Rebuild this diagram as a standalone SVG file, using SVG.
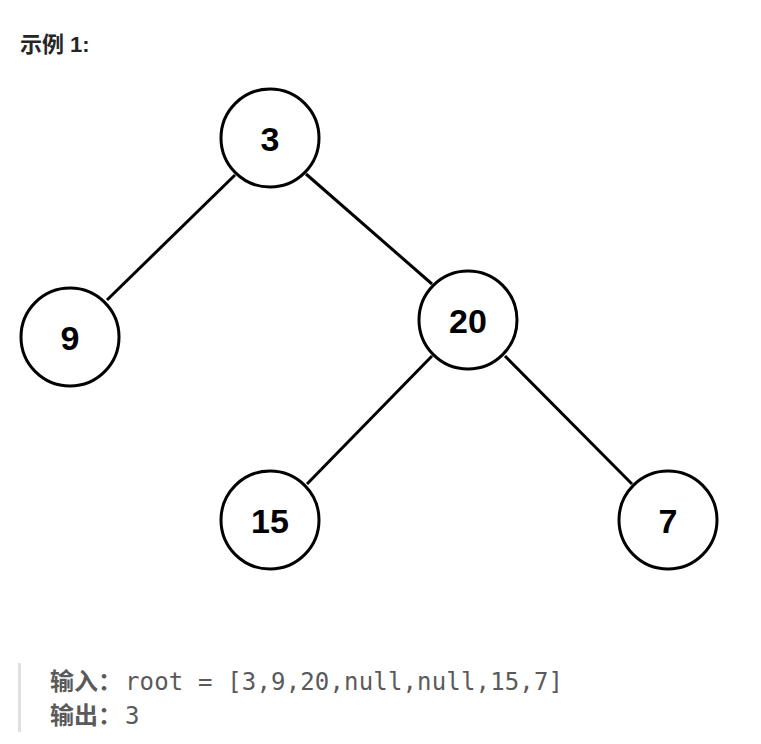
<svg xmlns="http://www.w3.org/2000/svg" width="761" height="744" viewBox="0 0 761 744">
<style>
circle{fill:#fff;stroke:#000;stroke-width:3}
.n{font-family:"Liberation Sans",Arial,sans-serif;font-weight:bold;font-size:34px;text-anchor:middle;fill:#000}
#edges line{stroke:#000;stroke-width:3}
.c{font-family:"DejaVu Sans Mono",monospace;font-size:24px;fill:#5a5a5a}
.k{font-family:"Noto Sans CJK SC",sans-serif;font-weight:bold;font-size:24px;fill:#5a5a5a}
</style>
<rect width="761" height="744" fill="#fff"/>
<text x="20" y="52" font-family="'Liberation Sans','Noto Sans CJK SC',sans-serif" font-weight="bold" font-size="22" fill="#262626">示例 1:</text>
<g id="edges">
<line x1="235" y1="175" x2="107" y2="300"/>
<line x1="306" y1="174" x2="432" y2="284"/>
<line x1="432" y1="356" x2="307" y2="484"/>
<line x1="505" y1="356" x2="632" y2="484"/>
</g>
<g id="n3"><circle cx="270" cy="138" r="49"/><text class="n" x="270" y="151">3</text></g>
<g id="n9"><circle cx="70" cy="337" r="49"/><text class="n" x="70" y="350">9</text></g>
<g id="n20"><circle cx="468" cy="320" r="49"/><text class="n" x="468" y="333">20</text></g>
<g id="n15"><circle cx="270" cy="520" r="49"/><text class="n" x="270" y="533">15</text></g>
<g id="n7"><circle cx="668" cy="520" r="49"/><text class="n" x="668" y="533">7</text></g>
<rect x="18" y="663" width="3" height="69" fill="#e0e0e0"/>
<text class="k" x="50" y="690">输入：</text>
<text class="c" x="125" y="690" textLength="438" lengthAdjust="spacing">root = [3,9,20,null,null,15,7]</text>
<text class="k" x="50" y="724">输出：</text>
<text class="c" x="125" y="724">3</text>
</svg>
